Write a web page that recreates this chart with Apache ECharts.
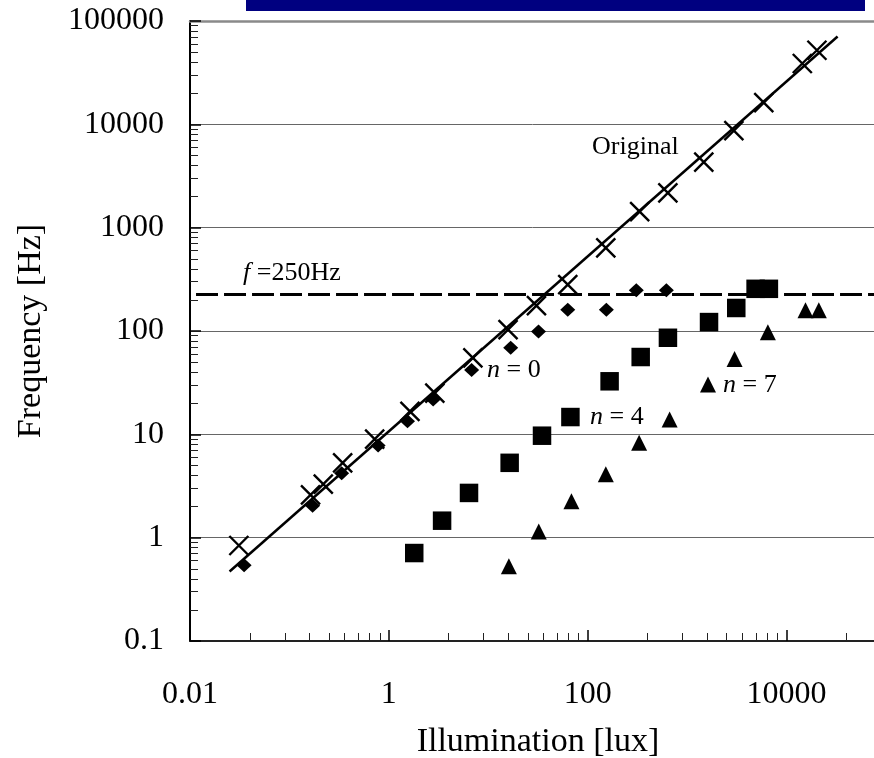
<!DOCTYPE html>
<html>
<head>
<meta charset="utf-8">
<script src="https://cdn.jsdelivr.net/npm/echarts@6/dist/echarts.min.js"></script>
<style>
html, body { margin: 0; padding: 0; background: #fff; overflow: hidden; }
#main { width: 874px; height: 758px; }
</style>
</head>
<body>
<div id="main"></div>
<script>
// values (lux, Hz)
var origX = [0.031, 0.163, 0.219, 0.343, 0.72, 1.63, 2.9, 7.0, 15.8, 30.5, 63, 152, 333, 640, 1470, 2950, 5900, 14400, 20200];
var origY = [0.84, 2.6, 3.3, 5.3, 9.0, 16.7, 25, 55, 103, 176, 281, 637, 1430, 2170, 4300, 8700, 16200, 38800, 52100];

var n0X = [0.035, 0.171, 0.335, 0.78, 1.54, 2.79, 6.8, 16.8, 32, 63, 154, 308, 618];
var n0Y = [0.54, 2.04, 4.2, 7.8, 13.4, 21.7, 42, 69, 99, 161, 161, 248, 248];

var n4X = [1.8, 3.43, 6.4, 16.4, 34.7, 67, 166, 341, 641, 1660, 3120, 4880, 6640];
var n4Y = [0.71, 1.46, 2.71, 5.3, 9.7, 14.7, 32.6, 56, 86, 122, 167, 256, 256];

var n7X = [16.1, 32.2, 68.6, 152, 329, 667, 1620, 3000, 6490, 15500, 21100];
var n7Y = [0.53, 1.15, 2.25, 4.1, 8.3, 13.9, 30.3, 53.7, 97, 159, 159];

// fitted line and the 250 Hz limit
var fitX = [0.025, 32600];
var fitY = [0.47, 70800];
var limX = [0.0115, 100000];
var limY = [225, 225];

var xLabels = [0.01, 1, 100, 10000];
var yLabels = [0.1, 1, 10, 100, 1000, 10000, 100000];

var lg = Math.log10;
var FONT = 'Liberation Serif';

function pairs(xs, ys) {
    return xs.map(function (x, i) { return [lg(x), lg(ys[i])]; });
}
function fmt(v) {
    var p = Math.round(v);
    return p < 0 ? Math.pow(10, p).toFixed(-p) : String(Math.pow(10, p));
}

// minor ticks: x axis every k^2 inside a 2-decade step, y axis every k inside a decade
var xMajor = xLabels.map(lg);
var xMinor = [];
xMajor.forEach(function (b) {
    for (var k = 2; k <= 9; k++) {
        if (b + lg(k * k) < 5) xMinor.push(b + lg(k * k));
    }
});
var yMajor = yLabels.map(lg);
var yMinor = [];
for (var n = -1; n < 5; n++) {
    for (var k = 2; k <= 9; k++) yMinor.push(n + lg(k));
}

var myChart = echarts.init(document.getElementById('main'));

var option = {
    animation: false,
    backgroundColor: '#fff',
    grid: {
        left: 190, top: 21, right: -12, bottom: 117,
        containLabel: false,
        outerBoundsMode: 'none'
    },
    xAxis: [
        {
            type: 'value', min: -2, max: 5, position: 'bottom',
            name: 'Illumination [lux]', nameLocation: 'middle', nameGap: 84,
            nameTextStyle: { fontFamily: FONT, fontSize: 34, color: '#000' },
            axisLine: { onZero: false, lineStyle: { color: '#222', width: 2 } },
            axisTick: { inside: true, length: 11, customValues: xMajor, lineStyle: { color: '#000', width: 1.5 } },
            axisLabel: {
                customValues: xMajor, margin: 38,
                fontFamily: FONT, fontSize: 32, color: '#000',
                formatter: fmt
            },
            splitLine: { show: false }
        },
        {
            type: 'value', min: -2, max: 5, position: 'bottom',
            axisLine: { show: false, onZero: false },
            axisTick: { inside: true, length: 8, customValues: xMinor, lineStyle: { color: '#222', width: 1 } },
            axisLabel: { show: false },
            splitLine: { show: false }
        },
        {
            type: 'value', min: -2, max: 5, position: 'top',
            axisLine: { onZero: false, lineStyle: { color: '#8a8a8a', width: 2.5 } },
            axisTick: { show: false },
            axisLabel: { show: false },
            splitLine: { show: false }
        }
    ],
    yAxis: [
        {
            type: 'value', min: -1, max: 5, interval: 1, position: 'left',
            name: 'Frequency [Hz]', nameLocation: 'middle', nameGap: 142,
            nameTextStyle: { fontFamily: FONT, fontSize: 34, color: '#000' },
            axisLine: { show: true, onZero: false, lineStyle: { color: '#000', width: 2 } },
            axisTick: { inside: true, length: 11, lineStyle: { color: '#000', width: 1.5 } },
            axisLabel: { margin: 26, fontFamily: FONT, fontSize: 32, color: '#000', formatter: fmt },
            splitLine: { show: true, lineStyle: { color: '#666', width: 1 } }
        },
        {
            type: 'value', min: -1, max: 5, position: 'left',
            axisLine: { show: false, onZero: false },
            axisTick: { inside: true, length: 8, customValues: yMinor, lineStyle: { color: '#222', width: 1 } },
            axisLabel: { show: false },
            splitLine: { show: false }
        }
    ],
    series: [
        {
            name: 'limit', type: 'line', data: pairs(limX, limY),
            symbol: 'none', silent: true,
            lineStyle: { color: '#000', width: 3, type: [22, 6] }
        },
        {
            name: 'fit', type: 'line', data: pairs(fitX, fitY),
            symbol: 'none', silent: true,
            lineStyle: { color: '#000', width: 2.5 }
        },
        {
            name: 'Original', type: 'scatter', data: pairs(origX, origY),
            symbol: 'path://M0,0L10,10M10,0L0,10', symbolSize: 19,
            itemStyle: { color: 'none', borderColor: '#000', borderWidth: 2.4, opacity: 1 }
        },
        {
            name: 'n = 0', type: 'scatter', data: pairs(n0X, n0Y),
            symbol: 'diamond', symbolSize: [15, 14],
            itemStyle: { color: '#000', opacity: 1 }
        },
        {
            name: 'n = 4', type: 'scatter', data: pairs(n4X, n4Y),
            symbol: 'rect', symbolSize: 18.5,
            itemStyle: { color: '#000', opacity: 1 }
        },
        {
            name: 'n = 7', type: 'scatter', data: pairs(n7X, n7Y),
            symbol: 'triangle', symbolSize: [16, 16],
            itemStyle: { color: '#000', opacity: 1 }
        }
    ],
    graphic: [
        { type: 'rect', shape: { x: 246, y: 0, width: 619, height: 11 }, style: { fill: '#000080' } },
        {
            type: 'text', x: 243, y: 273,
            style: {
                text: '{i|f} =250Hz', fontFamily: FONT, fontSize: 26, fill: '#000', verticalAlign: 'middle',
                rich: { i: { fontStyle: 'italic', fontFamily: FONT, fontSize: 26 } }
            }
        },
        { type: 'text', x: 592, y: 147, style: { text: 'Original', fontFamily: FONT, fontSize: 26, fill: '#000', verticalAlign: 'middle' } },
        {
            type: 'text', x: 487, y: 370,
            style: { text: '{i|n} = 0', fontFamily: FONT, fontSize: 26, fill: '#000', verticalAlign: 'middle',
                rich: { i: { fontStyle: 'italic', fontFamily: FONT, fontSize: 26 } } }
        },
        {
            type: 'text', x: 590, y: 417,
            style: { text: '{i|n} = 4', fontFamily: FONT, fontSize: 26, fill: '#000', verticalAlign: 'middle',
                rich: { i: { fontStyle: 'italic', fontFamily: FONT, fontSize: 26 } } }
        },
        {
            type: 'text', x: 723, y: 385,
            style: { text: '{i|n} = 7', fontFamily: FONT, fontSize: 26, fill: '#000', verticalAlign: 'middle',
                rich: { i: { fontStyle: 'italic', fontFamily: FONT, fontSize: 26 } } }
        }
    ]
};

myChart.setOption(option);
</script>
</body>
</html>
